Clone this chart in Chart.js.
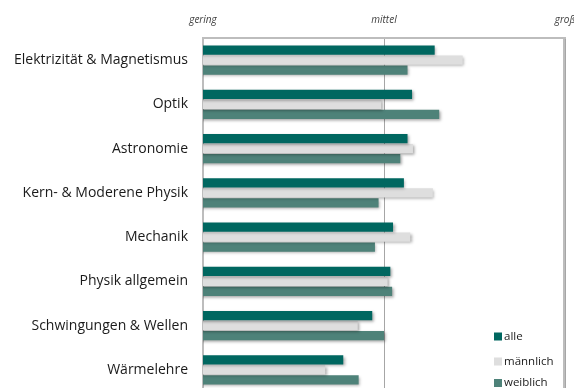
<!DOCTYPE html>
<html lang="de">
<head>
<meta charset="utf-8">
<title>Interesse an Themengebieten</title>
<script src="https://cdn.jsdelivr.net/npm/chart.js@4.4.1/dist/chart.umd.min.js"></script>
<style>
  html, body { margin: 0; padding: 0; background: #fff; overflow: hidden; }
  #wrap { position: relative; width: 574px; height: 392px; }
</style>
</head>
<body>
<div id="wrap"><canvas id="chart1"></canvas></div>
<script>
// Themen und Mittelwerte (1 = gering, 3 = mittel, 5 = groß)
const categories = ['Elektrizität & Magnetismus', 'Optik', 'Astronomie', 'Kern- & Moderene Physik',
  'Mechanik', 'Physik allgemein', 'Schwingungen & Wellen', 'Wärmelehre'];
const alle     = [3.56, 3.31, 3.26, 3.22, 3.10, 3.07, 2.87, 2.55];
const maennlich = [3.87, 2.97, 3.32, 3.54, 3.29, 3.04, 2.71, 2.35];
const weiblich = [3.26, 3.61, 3.18, 2.94, 2.90, 3.09, 3.00, 2.72];
const seriesNames = ['alle', 'männlich', 'weiblich'];
const tickLabels = { 1: 'gering', 3: 'mittel', 5: 'groß' };

const colors = ['#006760', '#dedede', '#4e8279'];
const labelFont = '"Open Sans", sans-serif';

// leichter Schatten unter den Balken
const barShadow = {
  id: 'barShadow',
  beforeDatasetsDraw(chart) {
    const ctx = chart.ctx;
    ctx.save();
    ctx.shadowColor = 'rgba(0,0,0,0.35)';
    ctx.shadowBlur = 3;
    ctx.shadowOffsetX = 1.5;
    ctx.shadowOffsetY = 1.5;
  },
  afterDatasetsDraw(chart) {
    chart.ctx.restore();
  }
};

// rechter Rand der Zeichenfläche
const plotFrame = {
  id: 'plotFrame',
  afterDraw(chart) {
    const a = chart.chartArea;
    const ctx = chart.ctx;
    const r = Math.round(a.right) - 1;
    ctx.save();
    ctx.strokeStyle = '#bdbdbd';
    ctx.lineWidth = 2;
    ctx.beginPath();
    ctx.moveTo(r, a.top);
    ctx.lineTo(r, chart.height);
    ctx.stroke();
    ctx.restore();
  }
};

// Legende unten rechts im Diagramm
const boxLegend = {
  id: 'boxLegend',
  afterDraw(chart) {
    const ctx = chart.ctx;
    const ys = [336.5, 361.5, 383];
    ctx.save();
    ctx.font = '11.5px ' + labelFont;
    ctx.textBaseline = 'middle';
    chart.data.datasets.forEach((ds, i) => {
      ctx.fillStyle = ds.backgroundColor;
      ctx.fillRect(494, ys[i] - 4, 8, 8);
      ctx.fillStyle = '#1a1a1a';
      ctx.fillText(ds.label, 504, ys[i]);
    });
    ctx.restore();
  }
};

const ctx = document.getElementById('chart1');
const myChart = new Chart(ctx, {
  type: 'bar',
  data: {
    labels: categories,
    datasets: [
      { label: seriesNames[0], data: alle, backgroundColor: colors[0] },
      { label: seriesNames[1], data: maennlich, backgroundColor: colors[1] },
      { label: seriesNames[2], data: weiblich, backgroundColor: colors[2] }
    ]
  },
  options: {
    indexAxis: 'y',
    responsive: true,
    maintainAspectRatio: false,
    animation: false,
    layout: { padding: { top: 14, right: 9, bottom: 0, left: 0 } },
    datasets: {
      bar: { categoryPercentage: 0.68, barPercentage: 0.93, borderWidth: 0 }
    },
    scales: {
      x: {
        position: 'top',
        min: 1,
        max: 5,
        grid: { color: '#a6a6a6', drawTicks: false, lineWidth: 1 },
        border: { color: '#bdbdbd', width: 2 },
        ticks: {
          stepSize: 2,
          padding: 12,
          maxRotation: 0,
          color: '#404040',
          font: { family: labelFont, size: 10, style: 'italic' },
          callback: (v) => tickLabels[v] || ''
        },
        afterFit(scale) {
          scale.height = 24;
          scale.paddingLeft = 0;
          scale.paddingRight = 0;
        }
      },
      y: {
        grid: { display: false, drawTicks: false },
        border: { color: '#bdbdbd', width: 2 },
        ticks: {
          padding: 15,
          color: '#1a1a1a',
          font: { family: labelFont, size: 14 }
        },
        afterFit(scale) {
          scale.width = 203;
          scale.paddingTop = 0;
          scale.paddingBottom = 0;
        }
      }
    },
    plugins: {
      legend: { display: false },
      tooltip: { enabled: false }
    }
  },
  plugins: [barShadow, plotFrame, boxLegend]
});
</script>
</body>
</html>
